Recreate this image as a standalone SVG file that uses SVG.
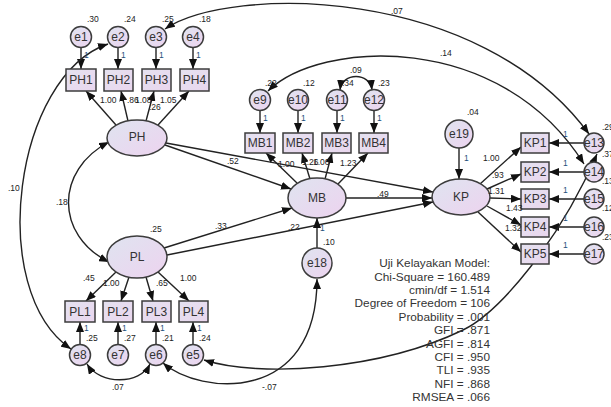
<svg xmlns="http://www.w3.org/2000/svg" width="611" height="407" viewBox="0 0 611 407">
<style>
.n{fill:url(#g);stroke:#3c3c3c;stroke-width:1.5}
.b{fill:url(#gb);stroke:#3c3c3c;stroke-width:1.5}
.t{font-family:"Liberation Sans",Arial,sans-serif;font-size:12px;fill:#333;text-anchor:middle;dominant-baseline:central}
.v{font-family:"Liberation Sans",Arial,sans-serif;font-size:8.5px;fill:#222}
.one{fill:#1d4f7c}
.s{font-family:"Liberation Sans",Arial,sans-serif;font-size:11.8px;fill:#333;text-anchor:end}
#connectors line,#connectors path{stroke:#222;stroke-width:1.4;fill:none}
</style>
<defs>
<linearGradient id="g" x1="0" y1="0" x2="1" y2="1"><stop offset="0" stop-color="#dfe4f0"/><stop offset="1" stop-color="#edd3ef"/></linearGradient>
<linearGradient id="gb" x1="0" y1="0" x2="1" y2="1"><stop offset="0" stop-color="#e4e2f0"/><stop offset="1" stop-color="#ead6ee"/></linearGradient>
<marker id="a" markerUnits="userSpaceOnUse" markerWidth="10" markerHeight="8" refX="10" refY="4" orient="auto-start-reverse"><path d="M0,0 L10,4 L0,8 z" fill="#111"/></marker>
</defs>

<g id="connectors">
<!-- error to PH boxes -->
<line x1="81" y1="48" x2="81" y2="69" marker-end="url(#a)"/>
<line x1="118" y1="48" x2="118" y2="69" marker-end="url(#a)"/>
<line x1="156" y1="48" x2="156" y2="69" marker-end="url(#a)"/>
<line x1="193" y1="48" x2="193" y2="69" marker-end="url(#a)"/>
<!-- PH loadings -->
<line x1="116" y1="125" x2="86" y2="91" marker-end="url(#a)"/>
<line x1="128" y1="121" x2="121" y2="91" marker-end="url(#a)"/>
<line x1="146" y1="121" x2="154" y2="91" marker-end="url(#a)"/>
<line x1="158" y1="125" x2="189" y2="91" marker-end="url(#a)"/>
<!-- PL loadings -->
<line x1="116" y1="272" x2="86" y2="301" marker-end="url(#a)"/>
<line x1="129" y1="277" x2="121" y2="301" marker-end="url(#a)"/>
<line x1="146" y1="277" x2="153" y2="301" marker-end="url(#a)"/>
<line x1="158" y1="272" x2="189" y2="301" marker-end="url(#a)"/>
<!-- error to PL boxes -->
<line x1="80" y1="345" x2="80" y2="322" marker-end="url(#a)"/>
<line x1="118" y1="345" x2="118" y2="322" marker-end="url(#a)"/>
<line x1="156" y1="345" x2="156" y2="322" marker-end="url(#a)"/>
<line x1="193" y1="345" x2="193" y2="322" marker-end="url(#a)"/>
<!-- error to MB boxes -->
<line x1="260" y1="111" x2="260" y2="133" marker-end="url(#a)"/>
<line x1="298" y1="111" x2="298" y2="133" marker-end="url(#a)"/>
<line x1="337" y1="111" x2="337" y2="133" marker-end="url(#a)"/>
<line x1="374" y1="111" x2="374" y2="133" marker-end="url(#a)"/>
<!-- MB loadings -->
<line x1="297" y1="183" x2="266" y2="153" marker-end="url(#a)"/>
<line x1="310" y1="179" x2="302" y2="153" marker-end="url(#a)"/>
<line x1="325" y1="179" x2="332" y2="153" marker-end="url(#a)"/>
<line x1="338" y1="184" x2="368" y2="153" marker-end="url(#a)"/>
<!-- structural paths -->
<line x1="165" y1="145" x2="291" y2="189" marker-end="url(#a)"/>
<line x1="166" y1="143" x2="433" y2="192" marker-end="url(#a)"/>
<line x1="164" y1="248" x2="292" y2="208" marker-end="url(#a)"/>
<line x1="167" y1="255" x2="433" y2="202" marker-end="url(#a)"/>
<line x1="346" y1="198" x2="432" y2="198" marker-end="url(#a)"/>
<line x1="317" y1="248" x2="317" y2="218" marker-end="url(#a)"/>
<line x1="459" y1="148" x2="459" y2="179" marker-end="url(#a)"/>
<!-- KP loadings -->
<line x1="480" y1="184" x2="521" y2="147" marker-end="url(#a)"/>
<line x1="487" y1="189" x2="521" y2="174" marker-end="url(#a)"/>
<line x1="490" y1="198" x2="521" y2="199" marker-end="url(#a)"/>
<line x1="487" y1="206" x2="521" y2="225" marker-end="url(#a)"/>
<line x1="478" y1="212" x2="521" y2="252" marker-end="url(#a)"/>
<!-- errors to KP boxes -->
<line x1="584" y1="143" x2="549" y2="143" marker-end="url(#a)"/>
<line x1="584" y1="172" x2="549" y2="172" marker-end="url(#a)"/>
<line x1="584" y1="199" x2="549" y2="199" marker-end="url(#a)"/>
<line x1="584" y1="227" x2="549" y2="227" marker-end="url(#a)"/>
<line x1="584" y1="254" x2="549" y2="254" marker-end="url(#a)"/>
<!-- covariances -->
<path d="M109,142 C55,170 55,235 109,262" marker-start="url(#a)" marker-end="url(#a)"/>
<path d="M108,44 C15,75 -15,290 71,349" marker-start="url(#a)" marker-end="url(#a)"/>
<path d="M165,29 C230,-15 480,-15 589,134" marker-start="url(#a)" marker-end="url(#a)"/>
<path d="M268,91 C320,40 500,30 584,164" marker-start="url(#a)" marker-end="url(#a)"/>
<path d="M340,90 C342,72 370,72 372,90" marker-start="url(#a)" marker-end="url(#a)"/>
<path d="M87,364 C100,385 140,385 150,364" marker-start="url(#a)" marker-end="url(#a)"/>
<path d="M163,363 C200,395 317,405 317,279" marker-start="url(#a)" marker-end="url(#a)"/>
<path d="M204,360 C260,378 380,370 463,330 C500,312 560,240 597,154" marker-start="url(#a)" marker-end="url(#a)"/>
</g>

<g id="PH"><ellipse class="n" cx="137" cy="138" rx="30" ry="18"/><text class="t" x="137" y="137">PH</text></g>
<g id="PL"><ellipse class="n" cx="137" cy="257" rx="30" ry="21"/><text class="t" x="137" y="257">PL</text></g>
<g id="MB"><ellipse class="n" cx="317" cy="198" rx="29" ry="20"/><text class="t" x="317" y="198">MB</text></g>
<g id="KP"><ellipse class="n" cx="461" cy="197" rx="29" ry="18"/><text class="t" x="461" y="197">KP</text></g>

<g id="PH1"><rect class="b" x="66" y="69" width="30" height="22"/><text class="t" x="81" y="80">PH1</text></g>
<g id="PH2"><rect class="b" x="104" y="69" width="29" height="22"/><text class="t" x="118.5" y="80">PH2</text></g>
<g id="PH3"><rect class="b" x="142" y="69" width="29" height="22"/><text class="t" x="156.5" y="80">PH3</text></g>
<g id="PH4"><rect class="b" x="180" y="69" width="29" height="22"/><text class="t" x="194.5" y="80">PH4</text></g>

<g id="PL1"><rect class="b" x="65" y="301" width="30" height="21"/><text class="t" x="80" y="311.5">PL1</text></g>
<g id="PL2"><rect class="b" x="103" y="301" width="30" height="21"/><text class="t" x="118" y="311.5">PL2</text></g>
<g id="PL3"><rect class="b" x="142" y="301" width="29" height="21"/><text class="t" x="156.5" y="311.5">PL3</text></g>
<g id="PL4"><rect class="b" x="179" y="301" width="29" height="21"/><text class="t" x="193.5" y="311.5">PL4</text></g>

<g id="MB1"><rect class="b" x="245" y="133" width="30" height="20"/><text class="t" x="260" y="143">MB1</text></g>
<g id="MB2"><rect class="b" x="283" y="133" width="30" height="20"/><text class="t" x="298" y="143">MB2</text></g>
<g id="MB3"><rect class="b" x="322" y="133" width="29" height="20"/><text class="t" x="336.5" y="143">MB3</text></g>
<g id="MB4"><rect class="b" x="359" y="133" width="29" height="20"/><text class="t" x="373.5" y="143">MB4</text></g>

<g id="KP1"><rect class="b" x="521" y="133" width="28" height="20"/><text class="t" x="535" y="143">KP1</text></g>
<g id="KP2"><rect class="b" x="521" y="162" width="28" height="20"/><text class="t" x="535" y="172">KP2</text></g>
<g id="KP3"><rect class="b" x="521" y="189" width="28" height="20"/><text class="t" x="535" y="199">KP3</text></g>
<g id="KP4"><rect class="b" x="521" y="217" width="28" height="20"/><text class="t" x="535" y="227">KP4</text></g>
<g id="KP5"><rect class="b" x="521" y="244" width="28" height="20"/><text class="t" x="535" y="254">KP5</text></g>

<g id="e1"><circle class="n" cx="81" cy="37" r="10.5"/><text class="t" x="81" y="37">e1</text></g>
<g id="e2"><circle class="n" cx="118" cy="37" r="10.5"/><text class="t" x="118" y="37">e2</text></g>
<g id="e3"><circle class="n" cx="156" cy="37" r="10.5"/><text class="t" x="156" y="37">e3</text></g>
<g id="e4"><circle class="n" cx="193" cy="37" r="10.5"/><text class="t" x="193" y="37">e4</text></g>
<g id="e9"><circle class="n" cx="260" cy="100" r="10.5"/><text class="t" x="260" y="100">e9</text></g>
<g id="e10"><circle class="n" cx="298" cy="100" r="10.5"/><text class="t" x="298" y="100">e10</text></g>
<g id="e11"><circle class="n" cx="337" cy="100" r="10.5"/><text class="t" x="337" y="100">e11</text></g>
<g id="e12"><circle class="n" cx="374" cy="100" r="10.5"/><text class="t" x="374" y="100">e12</text></g>
<g id="e8"><circle class="n" cx="80" cy="355" r="10.5"/><text class="t" x="80" y="355">e8</text></g>
<g id="e7"><circle class="n" cx="118" cy="355" r="10.5"/><text class="t" x="118" y="355">e7</text></g>
<g id="e6"><circle class="n" cx="156" cy="355" r="10.5"/><text class="t" x="156" y="355">e6</text></g>
<g id="e5"><circle class="n" cx="193" cy="355" r="10.5"/><text class="t" x="193" y="355">e5</text></g>
<g id="e18"><circle class="n" cx="317" cy="263" r="15"/><text class="t" x="317" y="263">e18</text></g>
<g id="e19"><circle class="n" cx="459" cy="134" r="14"/><text class="t" x="459" y="134">e19</text></g>
<g id="e13"><circle class="n" cx="594" cy="143" r="10"/><text class="t" x="594" y="143">e13</text></g>
<g id="e14"><circle class="n" cx="594" cy="172" r="10"/><text class="t" x="594" y="172">e14</text></g>
<g id="e15"><circle class="n" cx="594" cy="199" r="10"/><text class="t" x="594" y="199">e15</text></g>
<g id="e16"><circle class="n" cx="594" cy="227" r="10"/><text class="t" x="594" y="227">e16</text></g>
<g id="e17"><circle class="n" cx="594" cy="254" r="10"/><text class="t" x="594" y="254">e17</text></g>

<g id="labels">
<text class="v" x="87" y="22">.30</text>
<text class="v" x="124" y="22">.24</text>
<text class="v" x="162" y="22">.25</text>
<text class="v" x="199" y="22">.18</text>
<text class="v one" x="84" y="58">1</text>
<text class="v one" x="121" y="58">1</text>
<text class="v one" x="159" y="58">1</text>
<text class="v one" x="196" y="58">1</text>
<text class="v" x="100" y="103">1.00</text>
<text class="v" x="127" y="103">.86</text>
<text class="v" x="135" y="103">1.08</text>
<text class="v" x="149" y="110">.26</text>
<text class="v" x="160" y="103">1.05</text>
<text class="v" x="83" y="281">.45</text>
<text class="v" x="103" y="286">1.00</text>
<text class="v" x="156" y="286">.65</text>
<text class="v" x="180" y="281">1.00</text>
<text class="v one" x="84" y="331">1</text>
<text class="v one" x="122" y="331">1</text>
<text class="v one" x="160" y="331">1</text>
<text class="v one" x="197" y="331">1</text>
<text class="v" x="86" y="341">.25</text>
<text class="v" x="124" y="341">.27</text>
<text class="v" x="162" y="341">.21</text>
<text class="v" x="199" y="341">.24</text>
<text class="v" x="150" y="232">.25</text>
<text class="v" x="56" y="205">.18</text>
<text class="v" x="8" y="191">.10</text>
<text class="v" x="391" y="14">.07</text>
<text class="v" x="440" y="56">.14</text>
<text class="v" x="350" y="73">.09</text>
<text class="v" x="265" y="86">.22</text>
<text class="v" x="303" y="86">.12</text>
<text class="v" x="342" y="86">.34</text>
<text class="v" x="378" y="86">.23</text>
<text class="v one" x="263" y="121">1</text>
<text class="v one" x="301" y="121">1</text>
<text class="v one" x="340" y="121">1</text>
<text class="v one" x="377" y="121">1</text>
<text class="v" x="278" y="167">1.00</text>
<text class="v" x="302" y="165">1.26</text>
<text class="v" x="313" y="165">1.06</text>
<text class="v" x="340" y="166">1.23</text>
<text class="v" x="227" y="164">.52</text>
<text class="v" x="215" y="229">.33</text>
<text class="v" x="288" y="230">.22</text>
<text class="v" x="377" y="197">.49</text>
<text class="v" x="323" y="245">.10</text>
<text class="v one" x="320" y="231">1</text>
<text class="v" x="467" y="115">.04</text>
<text class="v one" x="464" y="161">1</text>
<text class="v" x="483" y="161">1.00</text>
<text class="v" x="492" y="178">.93</text>
<text class="v" x="488" y="194">1.31</text>
<text class="v" x="506" y="211">1.43</text>
<text class="v" x="505" y="231">1.32</text>
<text class="v one" x="563" y="137">1</text>
<text class="v one" x="563" y="166">1</text>
<text class="v one" x="563" y="193">1</text>
<text class="v one" x="563" y="221">1</text>
<text class="v one" x="563" y="248">1</text>
<text class="v" x="602" y="130">.29</text>
<text class="v" x="602" y="157">.37</text>
<text class="v" x="602" y="184">.13</text>
<text class="v" x="602" y="211">.12</text>
<text class="v" x="602" y="240">.23</text>
<text class="v" x="112" y="390">.07</text>
<text class="v" x="262" y="390">-.07</text>
</g>

<g id="fit">
<text class="s" x="490" y="267">Uji Kelayakan Model:</text>
<text class="s" x="490" y="281">Chi-Square = 160.489</text>
<text class="s" x="490" y="294">cmin/df = 1.514</text>
<text class="s" x="490" y="307">Degree of Freedom = 106</text>
<text class="s" x="490" y="321">Probability = .001</text>
<text class="s" x="490" y="334">GFI = .871</text>
<text class="s" x="490" y="348">AGFI = .814</text>
<text class="s" x="490" y="361">CFI = .950</text>
<text class="s" x="490" y="374">TLI = .935</text>
<text class="s" x="490" y="388">NFI = .868</text>
<text class="s" x="490" y="401">RMSEA = .066</text>
</g>
</svg>
